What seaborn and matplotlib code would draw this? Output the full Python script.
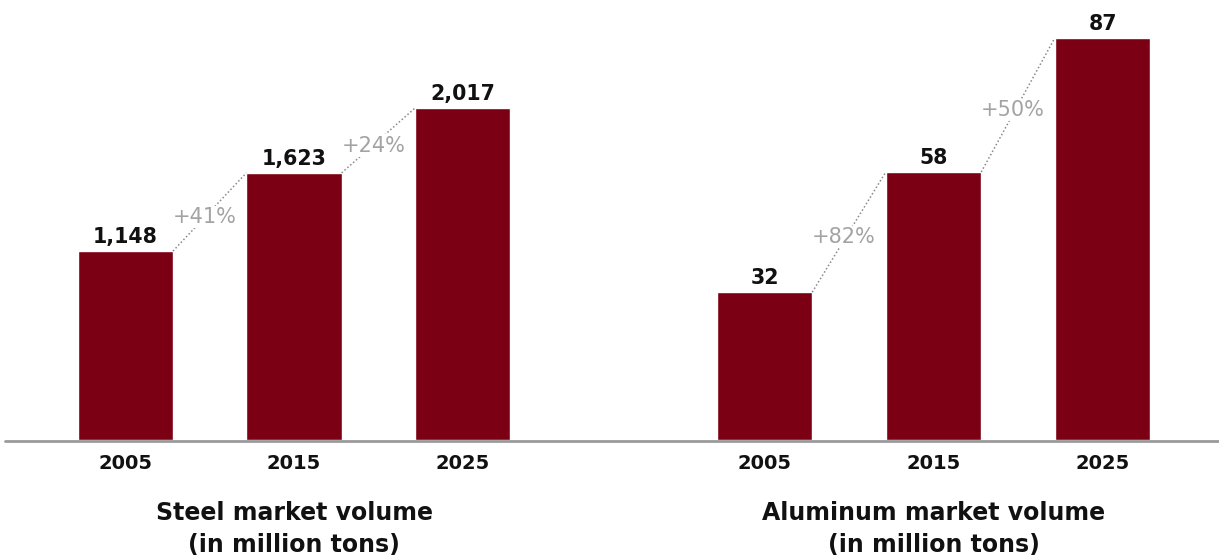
import matplotlib
matplotlib.use("Agg")
import matplotlib.pyplot as plt
import seaborn as sns
import pandas as pd
from matplotlib.lines import Line2D

years = ["2005", "2015", "2025"]
steel_values = [1148, 1623, 2017]
steel_labels = ["1,148", "1,623", "2,017"]
steel_growth = ["+41%", "+24%"]
alu_values = [32, 58, 87]
alu_labels = ["32", "58", "87"]
alu_growth = ["+82%", "+50%"]
titles = ["Steel market volume\n(in million tons)", "Aluminum market volume\n(in million tons)"]

sns.set_theme(style="white")
plt.rcParams['font.family'] = ['DejaVu Sans']

W, H = 1219, 559
fig = plt.figure(figsize=(W / 100, H / 100), dpi=100)

BAR_COLOR = "#7B0013"
GRAY_TXT = "#a3a3a3"

def px_axes(left, right, top, bottom):
    return fig.add_axes([left / W, 1 - bottom / H, (right - left) / W, (bottom - top) / H])

ax1 = px_axes(41, 547, 20, 440)
ax2 = px_axes(680, 1187, 20, 440)

panels = [
    (ax1, steel_values, steel_labels, steel_growth, 2552, titles[0]),
    (ax2, alu_values, alu_labels, alu_growth, 90.9, titles[1]),
]

bw = 0.565
for ax, vals, labs, growth, ymax, title in panels:
    df = pd.DataFrame({"year": years, "value": vals})
    sns.barplot(data=df, x="year", y="value", ax=ax, color=BAR_COLOR, width=bw,
                saturation=1, errorbar=None)
    ax.set_xlim(-0.5, 2.5)
    ax.set_ylim(0, ymax)
    for s in ax.spines.values():
        s.set_visible(False)
    ax.set_yticks([])
    ax.set_ylabel("")
    ax.set_xlabel(title, fontsize=17, fontweight="bold", labelpad=20, linespacing=1.45,
                  color="#111111")
    ax.tick_params(axis="x", length=0, pad=10)
    for t in ax.get_xticklabels():
        t.set_fontsize(14)
        t.set_fontweight("bold")
        t.set_color("#111111")
    for i, (v, l) in enumerate(zip(vals, labs)):
        ax.annotate(l, (i, v), xytext=(0, 3), textcoords="offset points",
                    ha="center", va="bottom", fontsize=14.8, fontweight="bold", color="#111111")
    for i, g in enumerate(growth):
        x0, y0 = i + bw / 2, vals[i]
        x1, y1 = i + 1 - bw / 2, vals[i + 1]
        ax.plot([x0, x1], [y0, y1], linestyle=(0, (1, 1.5)), color="#8a8a8a", lw=1.1, zorder=3)
        ax.text((x0 + x1) / 2 - 0.03, (y0 + y1) / 2 - 0.012 * ymax, g, ha="center", va="center",
                fontsize=15, color=GRAY_TXT, zorder=4,
                bbox=dict(boxstyle="square,pad=0.05", fc="white", ec="none"))

fig.add_artist(Line2D([5 / W, 1.0], [1 - 441 / H, 1 - 441 / H], color="#9a9a9a", lw=2,
                      transform=fig.transFigure))

fig.savefig("out.png", dpi=100, facecolor="white")
